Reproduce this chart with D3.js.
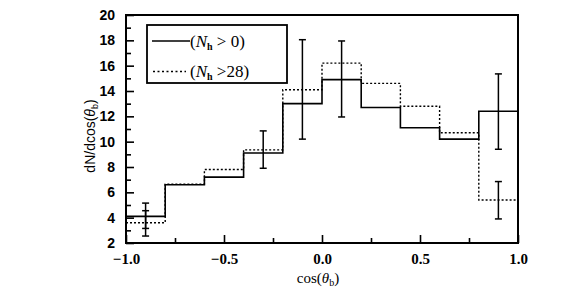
<!DOCTYPE html>
<html>
<head>
<meta charset="utf-8">
<script src="https://cdn.jsdelivr.net/npm/d3@7"></script>
<style>
html,body{margin:0;padding:0;background:#fff;}
svg{display:block;}
</style>
</head>
<body>
<svg id="chart" width="588" height="296"></svg>
<script>
// ---- data ----
const binEdges = [-1.0, -0.8, -0.6, -0.4, -0.2, 0.0, 0.2, 0.4, 0.6, 0.8, 1.0];
const solidValues = [4.1, 6.6, 7.2, 9.1, 13.0, 14.9, 12.7, 11.1, 10.2, 12.4];   // N_h > 0
const dottedValues = [3.6, 6.65, 7.8, 9.35, 14.1, 16.2, 14.6, 12.8, 10.7, 5.4]; // N_h > 28
const errX = [-0.9, -0.9, -0.3, -0.1, 0.1, 0.9, 0.9];
const errLow = [2.55, 3.15, 7.9, 10.2, 11.95, 9.4, 3.9];
const errHigh = [5.15, 4.55, 10.85, 18.05, 17.95, 15.35, 6.85];
const xTicks = [-1.0, -0.5, 0.0, 0.5, 1.0];
const xTickLabels = ["\u22121.0", "\u22120.5", "0.0", "0.5", "1.0"];
const xMinorTicks = [-0.75, -0.25, 0.25, 0.75];
const yTicks = [2, 4, 6, 8, 10, 12, 14, 16, 18, 20];
const yMinorTicks = [3, 5, 7, 9, 11, 13, 15, 17, 19];

// ---- layout ----
const L = 126, R = 518, T = 15, B = 243;
const svg = d3.select("#chart");
const x = d3.scaleLinear().domain([-1, 1]).range([L, R]);
const y = d3.scaleLinear().domain([2, 20]).range([B, T]);

// axes
const gx = svg.append("g").attr("transform", `translate(0,${B})`)
  .call(d3.axisBottom(x).tickValues(xTicks).tickSize(-8).tickPadding(10)
    .tickFormat((d, i) => xTickLabels[i]));
const gxm = svg.append("g").attr("transform", `translate(0,${B})`)
  .call(d3.axisBottom(x).tickValues(xMinorTicks).tickSize(-5).tickFormat(""));
const gy = svg.append("g").attr("transform", `translate(${L},0)`)
  .call(d3.axisLeft(y).tickValues(yTicks).tickSize(-8).tickPadding(11));
const gym = svg.append("g").attr("transform", `translate(${L},0)`)
  .call(d3.axisLeft(y).tickValues(yMinorTicks).tickSize(-5).tickFormat(""));

[gx, gxm, gy, gym].forEach(g => {
  g.select(".domain").remove();
  g.selectAll(".tick line").attr("stroke", "#000").attr("stroke-width", 1.6);
});
gx.selectAll(".tick text").attr("font-family", "Liberation Serif, serif")
  .attr("font-weight", "bold").attr("font-size", 15).attr("fill", "#000");
gy.selectAll(".tick text").attr("font-family", "Liberation Sans, Arial, sans-serif")
  .attr("font-weight", "bold").attr("font-size", 14).attr("fill", "#000");

// frame
svg.append("rect").attr("x", L).attr("y", T).attr("width", R - L).attr("height", B - T)
  .attr("fill", "none").attr("stroke", "#000").attr("stroke-width", 2);

// histograms
function stepPoints(vals) {
  const pts = vals.map((v, i) => [binEdges[i], v]);
  pts.push([binEdges[binEdges.length - 1], vals[vals.length - 1]]);
  return pts;
}
const line = d3.line().x(d => x(d[0])).y(d => y(d[1])).curve(d3.curveStepAfter);
svg.append("path").attr("d", line(stepPoints(solidValues)))
  .attr("fill", "none").attr("stroke", "#000").attr("stroke-width", 1.6);
svg.append("path").attr("d", line(stepPoints(dottedValues)))
  .attr("fill", "none").attr("stroke", "#000").attr("stroke-width", 1.4)
  .attr("stroke-dasharray", "2,2");

// error bars
const cap = 3.5;
errX.forEach((ex, i) => {
  const g = svg.append("g").attr("stroke", "#000").attr("stroke-width", 1.5);
  const cx = x(ex);
  g.append("line").attr("x1", cx).attr("x2", cx).attr("y1", y(errLow[i])).attr("y2", y(errHigh[i]));
  g.append("line").attr("x1", cx - cap).attr("x2", cx + cap).attr("y1", y(errLow[i])).attr("y2", y(errLow[i]));
  g.append("line").attr("x1", cx - cap).attr("x2", cx + cap).attr("y1", y(errHigh[i])).attr("y2", y(errHigh[i]));
});

// legend
svg.append("rect").attr("x", 147).attr("y", 25).attr("width", 140).attr("height", 58)
  .attr("fill", "#fff").attr("stroke", "#000").attr("stroke-width", 1.8);
svg.append("line").attr("x1", 152).attr("x2", 190).attr("y1", 41).attr("y2", 41)
  .attr("stroke", "#000").attr("stroke-width", 1.4);
svg.append("line").attr("x1", 153).attr("x2", 186).attr("y1", 71.5).attr("y2", 71.5)
  .attr("stroke", "#000").attr("stroke-width", 1.3).attr("stroke-dasharray", "2,2.5");

function legendText(tx, ty, rest) {
  const t = svg.append("text").attr("x", tx).attr("y", ty)
    .attr("font-family", "Liberation Serif, serif").attr("font-size", 17).attr("fill", "#000");
  t.append("tspan").text("(");
  t.append("tspan").attr("font-style", "italic").text("N");
  t.append("tspan").attr("font-weight", "bold").attr("font-size", 10).attr("dy", 3).text("h");
  t.append("tspan").attr("dy", -3).text(rest);
}
legendText(190, 47, " > 0)");
legendText(190, 77, " >28)");

// axis titles
const xl = svg.append("text").attr("x", 318).attr("y", 283).attr("text-anchor", "middle")
  .attr("font-family", "Liberation Serif, serif").attr("font-size", 15).attr("fill", "#000");
xl.append("tspan").text("cos(");
xl.append("tspan").attr("font-style", "italic").text("\u03b8");
xl.append("tspan").attr("font-size", 10).attr("dy", 3).text("b");
xl.append("tspan").attr("dy", -3).text(")");

const yl = svg.append("text").attr("transform", "translate(95,136) rotate(-90)")
  .attr("text-anchor", "middle")
  .attr("font-family", "Liberation Sans, Arial, sans-serif").attr("font-size", 14).attr("fill", "#000");
yl.append("tspan").text("dN/dcos(");
yl.append("tspan").attr("font-style", "italic").text("\u03b8");
yl.append("tspan").attr("font-size", 9).attr("dy", 3).text("b");
yl.append("tspan").attr("dy", -3).text(")");
</script>
</body>
</html>
